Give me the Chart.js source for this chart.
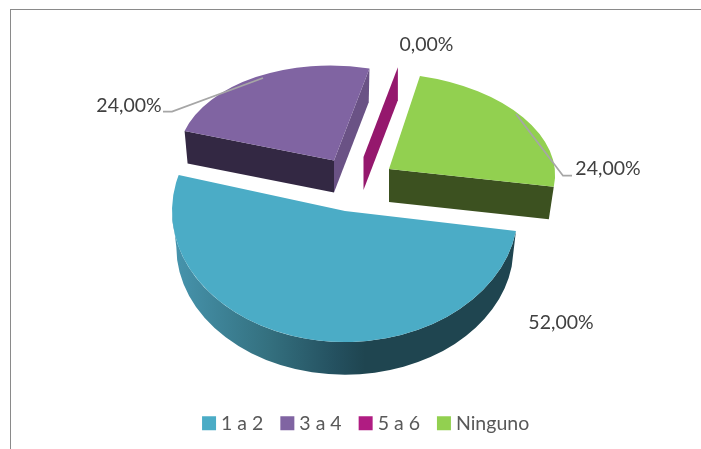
<!DOCTYPE html>
<html>
<head>
<meta charset="utf-8">
<title>Pie</title>
<script src="https://cdn.jsdelivr.net/npm/chart.js@4"></script>
<style>
  html, body { margin: 0; padding: 0; background: #fff; overflow: hidden; }
  #frame { position: absolute; left: 10px; top: 9px; right: 0; bottom: 0; border-left: 1px solid #8a8a8a; border-top: 1px solid #8a8a8a; }
  #myPieChart { position: absolute; left: 0; top: 0; }
</style>
</head>
<body>
<div id="frame"></div>
<canvas id="myPieChart" width="701" height="449"></canvas>
<script>
const categories = ["1 a 2", "3 a 4", "5 a 6", "Ninguno"];
const percentValues = [52, 24, 0, 24];
const percentLabels = percentValues.map((v) => v.toFixed(2).replace(".", ",") + "%");
const sliceColors = ["#4bacc6", "#8064a2", "#b01c82", "#92d050"];

// how each slice sits in the fake 3d view, same order as categories
const sliceViews = [
  { x: 345, y: 211, m: [173, 0, 0, 131], depth: 36, shrink: 0.975, outerWall: true },
  { x: 334, y: 160.5, m: [156, -2, 3.5, 95], depth: 32, shrink: 0.98, startWall: "#332843", endWall: "#6a5285" },
  { x: 363.5, y: 157, m: [160, 0, 0, 92], depth: 33, shrink: 1, endWall: "#95186d" },
  { x: 389, y: 169, m: [166, 4.8, 3.2, 96], depth: 33, shrink: 0.97, endWall: "#3c5120" }
];
const drawOrder = [1, 2, 3, 0];

const labelSpots = [
  { x: 561, y: 323 },
  { x: 129, y: 106 },
  { x: 426.5, y: 45 },
  { x: 608, y: 169 }
];
const leaderLines = [
  [[163, 111.7], [172, 111.7], [263, 78]],
  [[516, 114], [563, 175.7], [572, 175.7]]
];

function edgePoint(view, angle, scale) {
  const cx = Math.cos(angle) * scale;
  const cy = Math.sin(angle) * scale;
  return [view.m[0] * cx + view.m[1] * cy, view.m[2] * cx + view.m[3] * cy];
}

function drawRadialWall(ctx, view, angle, color) {
  const top = edgePoint(view, angle, 1);
  const low = edgePoint(view, angle, view.shrink);
  ctx.beginPath();
  ctx.moveTo(view.x, view.y);
  ctx.lineTo(view.x + top[0], view.y + top[1]);
  ctx.lineTo(view.x + low[0], view.y + view.depth + low[1]);
  ctx.lineTo(view.x, view.y + view.depth);
  ctx.closePath();
  ctx.fillStyle = color;
  ctx.fill();
}

function drawOuterWall(ctx, view, el) {
  const rx = view.m[0];
  const ry = view.m[3];
  const end = Math.min(el.endAngle, Math.PI);
  const shade = ctx.createLinearGradient(view.x - rx, 0, view.x + 20, 0);
  shade.addColorStop(0, "#4795ae");
  shade.addColorStop(0.5, "#34707f");
  shade.addColorStop(0.85, "#24505f");
  shade.addColorStop(1, "#1f4550");
  ctx.beginPath();
  ctx.ellipse(view.x, view.y, rx, ry, 0, el.startAngle, end);
  ctx.ellipse(view.x, view.y + view.depth, rx * view.shrink, ry * view.shrink, 0, end, el.startAngle, true);
  ctx.closePath();
  ctx.fillStyle = shade;
  ctx.fill();
}

const pie3d = {
  id: "pie3d",
  beforeDatasetsDraw(chart) {
    const ctx = chart.ctx;
    const arcs = chart.getDatasetMeta(0).data;
    drawOrder.forEach((i) => {
      const el = arcs[i];
      const view = sliceViews[i];
      if (view.outerWall) drawOuterWall(ctx, view, el);
      if (view.startWall) drawRadialWall(ctx, view, el.startAngle, view.startWall);
      if (view.endWall) drawRadialWall(ctx, view, el.endAngle, view.endWall);
      if (el.endAngle - el.startAngle > 0) {
        const r = el.outerRadius;
        ctx.save();
        ctx.translate(view.x, view.y);
        ctx.transform(view.m[0] / r, view.m[2] / r, view.m[1] / r, view.m[3] / r, 0, 0);
        ctx.translate(-el.x, -el.y);
        el.draw(ctx);
        ctx.restore();
      }
    });
    return false;
  },
  // afterDatasetsDraw does not fire once the draw above is cancelled
  afterDraw(chart) {
    const ctx = chart.ctx;
    ctx.save();
    ctx.strokeStyle = "#a6a6a6";
    ctx.lineWidth = 1.8;
    leaderLines.forEach((line) => {
      ctx.beginPath();
      line.forEach((p, n) => (n ? ctx.lineTo(p[0], p[1]) : ctx.moveTo(p[0], p[1])));
      ctx.stroke();
    });
    ctx.fillStyle = "#404040";
    ctx.font = "19.5px Lato";
    ctx.textAlign = "center";
    ctx.textBaseline = "middle";
    percentLabels.forEach((text, i) => ctx.fillText(text, labelSpots[i].x, labelSpots[i].y));
    ctx.restore();
  }
};

const ctx = document.getElementById("myPieChart").getContext("2d");
const myPieChart = new Chart(ctx, {
  type: "pie",
  data: {
    labels: categories,
    datasets: [{ data: percentValues, backgroundColor: sliceColors, borderWidth: 0 }]
  },
  options: {
    responsive: false,
    animation: false,
    rotation: 98.8,
    layout: { padding: { left: 35, bottom: 6 } },
    plugins: {
      tooltip: { enabled: false },
      legend: {
        position: "bottom",
        labels: {
          usePointStyle: true,
          pointStyle: "rect",
          boxWidth: 4.5,
          boxHeight: 14,
          padding: 21.75,
          color: "#595959",
          font: { family: "Lato", size: 19.5 }
        }
      }
    }
  },
  plugins: [pie3d]
});
</script>
</body>
</html>
